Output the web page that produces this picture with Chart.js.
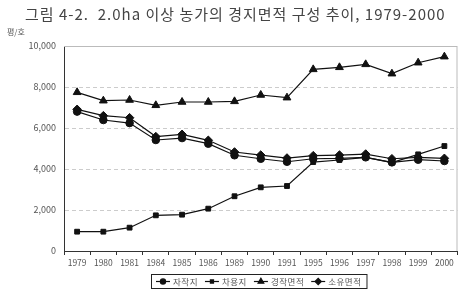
<!DOCTYPE html>
<html>
<head>
<meta charset="utf-8">
<script src="https://cdn.jsdelivr.net/npm/chart.js@4.4.0/dist/chart.umd.min.js"></script>
<style>
  html, body { margin: 0; padding: 0; background: #fff; }
  #wrap { width: 463px; height: 294px; position: relative; }
</style>
</head>
<body>
<div id="wrap"><canvas id="chart" width="463" height="294"></canvas></div>
<script>
// data (평/호)
const years = ['1979','1980','1981','1984','1985','1986','1989','1990','1991','1995','1996','1997','1998','1999','2000'];
const ownCultivated = [6800, 6390, 6240, 5415, 5510, 5235, 4670, 4500, 4355, 4500, 4520, 4570, 4325, 4455, 4390]; // 자작지
const rented = [942, 942, 1138, 1740, 1772, 2065, 2670, 3106, 3170, 4340, 4440, 4570, 4310, 4715, 5120]; // 차용지
const cultivatedArea = [7741, 7332, 7366, 7107, 7268, 7268, 7300, 7610, 7480, 8860, 8960, 9105, 8650, 9185, 9480]; // 경작면적
const ownedArea = [6910, 6600, 6500, 5580, 5690, 5400, 4830, 4680, 4535, 4650, 4680, 4730, 4500, 4570, 4520]; // 소유면적
const yTicks = [0, 2000, 4000, 6000, 8000, 10000];

const titleText = '그림 4-2.  2.0ha 이상 농가의 경지면적 구성 추이, 1979-2000';
const unitText = '평/호';
const FONT = '"Noto Sans CJK KR", "Noto Sans", sans-serif';
const INK = '#111';

function series(label, data, style, radius) {
  return {
    label, data,
    borderColor: INK, backgroundColor: INK,
    borderWidth: 1.2,
    pointStyle: style, pointRadius: radius,
    pointBackgroundColor: INK, pointBorderColor: INK, pointBorderWidth: 1,
    tension: 0
  };
}

// title, unit label, light frame and the boxed legend
const decor = {
  id: 'decor',
  beforeDraw(chart) {
    const { ctx } = chart;
    ctx.save();
    ctx.fillStyle = '#444';
    ctx.font = '15px ' + FONT;
    ctx.letterSpacing = '1px';
    ctx.textAlign = 'left';
    ctx.textBaseline = 'middle';
    ctx.fillText(titleText, 25, 14);
    ctx.letterSpacing = '0px';
    ctx.font = '8px ' + FONT;
    ctx.fillStyle = '#555';
    ctx.fillText(unitText, 7, 32);
    ctx.restore();
  },
  afterDatasetsDraw(chart) {
    const { ctx, chartArea: a } = chart;
    ctx.save();
    ctx.strokeStyle = '#bbb';
    ctx.lineWidth = 1;
    ctx.beginPath();
    ctx.moveTo(a.left, a.top + 0.5);
    ctx.lineTo(a.right - 0.5, a.top + 0.5);
    ctx.lineTo(a.right - 0.5, a.bottom);
    ctx.stroke();

    // legend
    const items = chart.data.datasets;
    ctx.font = '8.5px ' + FONT;
    ctx.letterSpacing = '0.5px';
    ctx.textBaseline = 'middle';
    const lineW = 14, gap = 3, sep = 7;
    const widths = items.map(d => lineW + gap + ctx.measureText(d.label).width);
    const total = widths.reduce((s, w) => s + w, 0) + sep * (items.length - 1) + 10;
    const boxX = Math.round(259 - total / 2), boxY = 274, boxH = 14;
    ctx.strokeStyle = '#222';
    ctx.lineWidth = 1;
    ctx.strokeRect(boxX + 0.5, boxY + 0.5, total, boxH);
    let x = boxX + 5;
    const cy = boxY + boxH / 2 + 0.5;
    items.forEach((d, i) => {
      ctx.strokeStyle = INK;
      ctx.lineWidth = 1.2;
      ctx.beginPath();
      ctx.moveTo(x, cy);
      ctx.lineTo(x + lineW, cy);
      ctx.stroke();
      ctx.fillStyle = INK;
      Chart.helpers.drawPoint(ctx, { pointStyle: d.pointStyle, radius: d.pointRadius - 1.2, borderWidth: 1 }, x + lineW / 2, cy);
      ctx.fillStyle = '#555';
      ctx.textAlign = 'left';
      ctx.fillText(d.label, x + lineW + gap, cy);
      x += widths[i] + sep;
    });
    ctx.restore();
  }
};

const ctx = document.getElementById('chart').getContext('2d');
new Chart(ctx, {
  type: 'line',
  data: {
    labels: years,
    datasets: [
      series('자작지', ownCultivated, 'circle', 3.8),
      series('차용지', rented, 'rect', 3.4),
      series('경작면적', cultivatedArea, 'triangle', 4.5),
      series('소유면적', ownedArea, 'rectRot', 4.3)
    ]
  },
  options: {
    responsive: false,
    animation: false,
    devicePixelRatio: 1,
    layout: { padding: { left: 0, right: 2, top: 46, bottom: 0 } },
    plugins: {
      legend: { display: false },
      title: { display: false },
      tooltip: { enabled: false }
    },
    scales: {
      x: {
        offset: true,
        grid: { display: true, drawOnChartArea: false, offset: true, color: '#333', tickLength: 4 },
        border: { color: '#333', width: 1 },
        ticks: { color: '#555', font: { size: 8.5, family: FONT }, padding: 3, maxRotation: 0, autoSkip: false },
        afterFit: s => { s.height = 43; }
      },
      y: {
        min: 0, max: 10000,
        afterBuildTicks: s => { s.ticks = yTicks.map(v => ({ value: v })); },
        grid: { color: '#ccc', drawTicks: false },
        border: { color: '#333', width: 1, dash: [4, 3] },
        ticks: {
          color: '#555', font: { size: 9, family: FONT }, padding: 8,
          callback: v => v.toLocaleString('en-US')
        },
        afterFit: s => { s.width = 64; }
      }
    }
  },
  plugins: [decor]
});
</script>
</body>
</html>
